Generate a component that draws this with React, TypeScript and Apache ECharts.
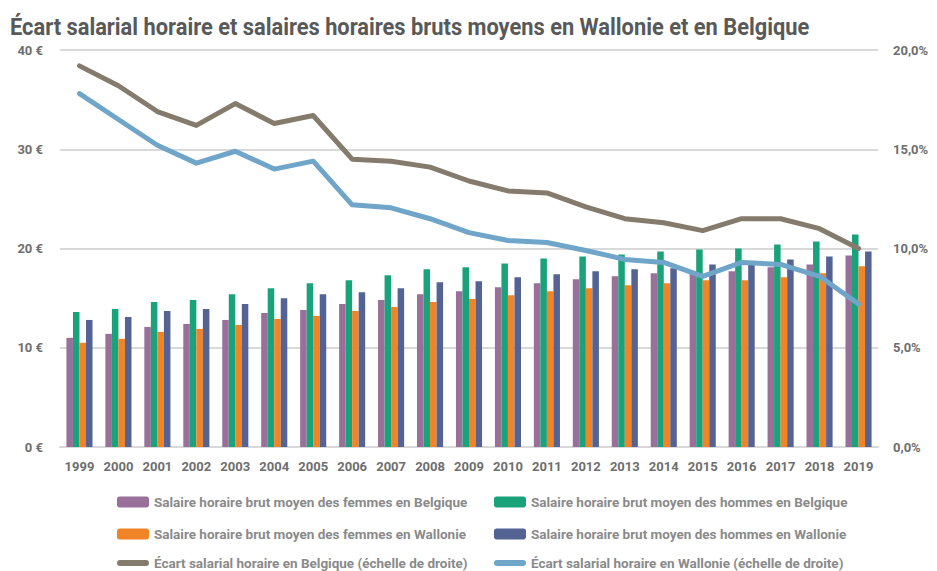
import React, { useEffect, useRef } from "react";
import * as echarts from "echarts";

const years = ["1999","2000","2001","2002","2003","2004","2005","2006","2007","2008","2009","2010","2011","2012","2013","2014","2015","2016","2017","2018","2019"];
const femmesBE = [11.0, 11.4, 12.1, 12.4, 12.8, 13.5, 13.8, 14.4, 14.8, 15.4, 15.7, 16.1, 16.5, 16.9, 17.2, 17.5, 17.6, 17.7, 18.1, 18.4, 19.3];
const hommesBE = [13.6, 13.9, 14.6, 14.8, 15.4, 16.0, 16.5, 16.8, 17.3, 17.9, 18.1, 18.5, 19.0, 19.2, 19.4, 19.7, 19.9, 20.0, 20.4, 20.7, 21.4];
const femmesWA = [10.5, 10.9, 11.6, 11.9, 12.3, 12.9, 13.2, 13.7, 14.1, 14.6, 14.9, 15.3, 15.7, 16.0, 16.3, 16.5, 16.8, 16.8, 17.1, 17.5, 18.2];
const hommesWA = [12.8, 13.1, 13.7, 13.9, 14.4, 15.0, 15.4, 15.6, 16.0, 16.6, 16.7, 17.1, 17.4, 17.7, 17.9, 18.0, 18.4, 18.5, 18.9, 19.2, 19.7];
const ecartBE = [19.2, 18.2, 16.9, 16.2, 17.3, 16.3, 16.7, 14.5, 14.4, 14.1, 13.4, 12.9, 12.8, 12.1, 11.5, 11.3, 10.9, 11.5, 11.5, 11.0, 10.0];
const ecartWA = [17.8, 16.5, 15.2, 14.3, 14.9, 14.0, 14.4, 12.2, 12.05, 11.5, 10.8, 10.4, 10.3, 9.9, 9.45, 9.3, 8.6, 9.3, 9.2, 8.6, 7.2];

const names = [
  "Salaire horaire brut moyen des femmes en Belgique",
  "Salaire horaire brut moyen des hommes en Belgique",
  "Salaire horaire brut moyen des femmes en Wallonie",
  "Salaire horaire brut moyen des hommes en Wallonie",
  "Écart salarial horaire en Belgique (échelle de droite)",
  "Écart salarial horaire en Wallonie (échelle de droite)",
];
const colors = ["#98709a", "#1aa37a", "#f08426", "#556394", "#857b6c", "#6fa5c9"];
const titleText = "Écart salarial horaire et salaires horaires bruts moyens en Wallonie et en Belgique";

const FONT = "Roboto";
const lineIcon = "path://M3,0 H29 A3,3 0 0 1 29,6 H3 A3,3 0 0 1 3,0 Z";

// legend placement: [name index, left, top]
const legendPos: [number, number, number][] = [
  [0, 112, 495], [1, 489, 495],
  [2, 112, 527], [3, 489, 527],
  [4, 112, 556], [5, 489, 556],
];

export default function App() {
  const ref = useRef<HTMLDivElement>(null);
  useEffect(() => {
    if (!ref.current) return;
    const chart = echarts.init(ref.current, null, { renderer: "svg" });
    const labelStyle = { fontFamily: FONT, fontWeight: "bold", fontSize: 13, color: "#6e6e6e" };
    chart.setOption({
      animation: false,
      backgroundColor: "#ffffff",
      color: colors,
      graphic: [
        {
          type: "text",
          x: 10,
          y: 15,
          scaleX: 0.91,
          style: {
            text: titleText,
            fontFamily: FONT,
            fontWeight: "bold",
            fontSize: 24,
            fill: "#595959",
            textVerticalAlign: "top",
          },
        },
      ],
      legend: legendPos.map(([i, left, top]) => ({
        left: left + 5,
        top,
        padding: 0,
        itemWidth: 32,
        itemHeight: 11,
        itemGap: 0,
        data: [i >= 4 ? { name: names[i], icon: lineIcon } : names[i]],
        textStyle: { fontFamily: FONT, fontWeight: "bold", fontSize: 13.5, lineHeight: 14, color: "#8a8a8a" },
      })),
      grid: { left: 60, right: 59, top: 50, bottom: 124 },
      xAxis: {
        type: "category",
        data: years,
        axisLine: { lineStyle: { color: "#d9d9d9", width: 2 } },
        axisTick: { show: false },
        axisLabel: { ...labelStyle, margin: 13, interval: 0 },
      },
      yAxis: [
        {
          type: "value",
          min: 0,
          max: 40,
          interval: 10,
          axisLabel: { ...labelStyle, formatter: (v: number) => `${v} €`, margin: 17 },
          splitLine: { lineStyle: { color: "#d9d9d9", width: 2 } },
          axisLine: { show: false },
          axisTick: { show: false },
        },
        {
          type: "value",
          min: 0,
          max: 20,
          interval: 5,
          position: "right",
          axisLabel: { ...labelStyle, formatter: (v: number) => `${v.toFixed(1).replace(".", ",")}%`, margin: 15 },
          splitLine: { show: false },
          axisLine: { show: false },
          axisTick: { show: false },
        },
      ],
      series: [
        { name: names[0], type: "bar", data: femmesBE, barGap: "0%", barCategoryGap: "33%" },
        { name: names[1], type: "bar", data: hommesBE, barGap: "0%", barCategoryGap: "33%" },
        { name: names[2], type: "bar", data: femmesWA, barGap: "0%", barCategoryGap: "33%" },
        { name: names[3], type: "bar", data: hommesWA, barGap: "0%", barCategoryGap: "33%" },
        {
          name: names[4], type: "line", yAxisIndex: 1, data: ecartBE, showSymbol: false, symbol: "none", z: 5,
          lineStyle: { width: 5, cap: "round", join: "round", color: colors[4] },
        },
        {
          name: names[5], type: "line", yAxisIndex: 1, data: ecartWA, showSymbol: false, symbol: "none", z: 5,
          lineStyle: { width: 5, cap: "round", join: "round", color: colors[5] },
        },
      ],
    });
    return () => chart.dispose();
  }, []);
  return <div ref={ref} style={{ width: 937, height: 571, position: "absolute", left: 0, top: 0 }} />;
}
